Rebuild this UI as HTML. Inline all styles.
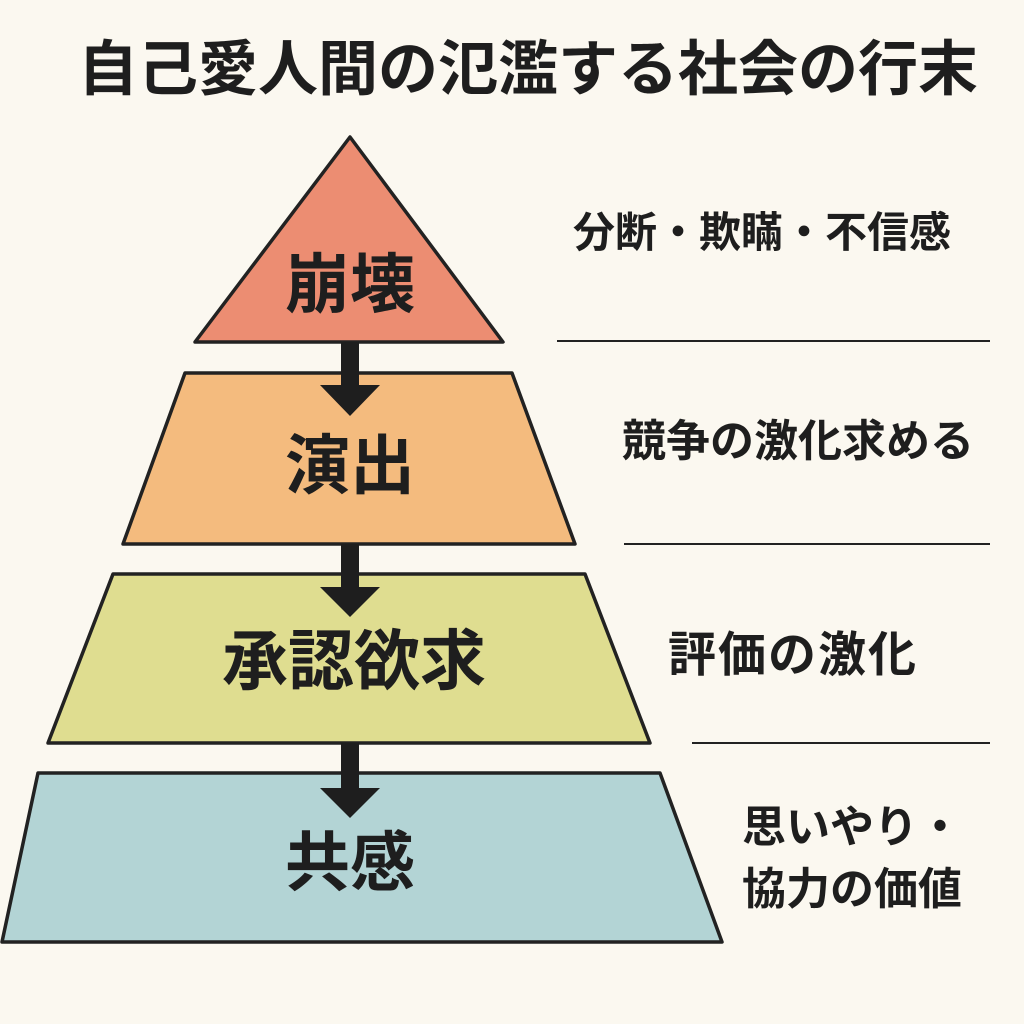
<!DOCTYPE html>
<html><head><meta charset="utf-8"><style>
html,body{margin:0;padding:0;background:#fbf8f0;}
.w{position:relative;width:1024px;height:1024px;overflow:hidden;font-family:"Liberation Sans","Noto Sans CJK JP",sans-serif;color:#1e1e1e;font-weight:bold;}
.t{position:absolute;white-space:nowrap;line-height:1;}
</style></head><body><div class="w">
<svg width="1024" height="1024" style="position:absolute;left:0;top:0">
<g stroke="#222" stroke-width="3.5" stroke-linejoin="round">
<polygon points="350,137 503,342 195,342" fill="#ec8d72"/>
<polygon points="185,373 512,373 575,544 123,544" fill="#f4bb7e"/>
<polygon points="113,574 585,574 650,743 48,743" fill="#dfdd90"/>
<polygon points="38,773 660,773 722,942 2,942" fill="#b3d4d5"/>
</g>
<g fill="#1e1e1e">
<rect x="341" y="342" width="18" height="45"/><polygon points="320,385 380,385 350,416"/>
<rect x="341" y="544" width="18" height="45"/><polygon points="320,587 380,587 350,617"/>
<rect x="341" y="743" width="18" height="47"/><polygon points="320,788 380,788 350,818"/>
</g>
<g stroke="#222" stroke-width="2">
<line x1="557" y1="341" x2="990" y2="341"/>
<line x1="624" y1="544" x2="990" y2="544"/>
<line x1="692" y1="743" x2="990" y2="743"/>
</g>
</svg>
<div class="t" style="left:78px;top:40px;font-size:60px;">自己愛人間の氾濫する社会の行末</div>
<div class="t" style="left:285px;top:252px;font-size:65px;">崩壊</div>
<div class="t" style="left:285px;top:433px;font-size:65px;">演出</div>
<div class="t" style="left:222px;top:628px;font-size:66px;">承認欲求</div>
<div class="t" style="left:285px;top:830px;font-size:65px;">共感</div>
<div class="t" style="left:573px;top:212px;font-size:42px;">分断・欺瞞・不信感</div>
<div class="t" style="left:622px;top:420px;font-size:44px;">競争の激化求める</div>
<div class="t" style="left:668px;top:632px;font-size:48px;letter-spacing:2px;">評価の激化</div>
<div class="t" style="left:742px;top:806px;font-size:44px;">思いやり・</div>
<div class="t" style="left:742px;top:868px;font-size:44px;">協力の価値</div>
</div></body></html>
